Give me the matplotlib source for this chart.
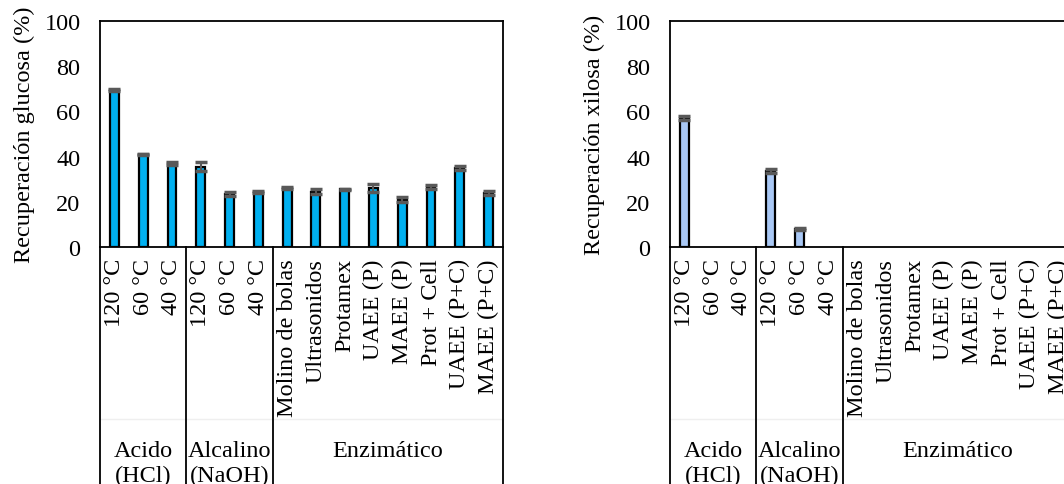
"""Recuperación de glucosa y xilosa por pretratamiento."""

import matplotlib

matplotlib.use("Agg")
import matplotlib.pyplot as plt
import matplotlib.transforms as mtransforms

categories = ["120 °C", "60 °C", "40 °C",
              "120 °C", "60 °C", "40 °C",
              "Molino de bolas", "Ultrasonidos", "Protamex", "UAEE (P)",
              "MAEE (P)", "Prot + Cell", "UAEE (P+C)", "MAEE (P+C)"]
groups = ["Acido\n(HCl)", "Alcalino\n(NaOH)", "Enzimático"]
group_sizes = [3, 3, 8]

glucosa = [69.5, 41.0, 37.0, 35.5, 23.5, 24.5, 26.0, 24.5, 25.5, 26.0, 21.0, 26.5, 35.0, 24.0]
glucosa_err = [0.4, 0.3, 0.6, 2.0, 0.9, 0.4, 0.4, 1.2, 0.3, 1.8, 1.2, 0.9, 0.8, 1.0]
xilosa = [57.0, 0, 0, 33.5, 8.0, 0, 0, 0, 0, 0, 0, 0, 0, 0]
xilosa_err = [1.0, 0, 0, 0.8, 0.3, 0, 0, 0, 0, 0, 0, 0, 0, 0]

plt.rcParams["font.family"] = ["Liberation Serif", "DejaVu Serif"]
plt.rcParams["font.size"] = 17.5

W, H = 1064, 485
fig = plt.figure(figsize=(W / 100, H / 100), dpi=100)


def draw_panel(left_px, values, errors, color, ylabel):
    ax = fig.add_axes([left_px / W, (H - 248) / H, 403 / W, 226 / H])
    x = list(range(len(categories)))
    nz = [i for i, v in enumerate(values) if v > 0]
    ax.bar([x[i] for i in nz], [values[i] for i in nz], width=0.31, color=color,
           edgecolor="black", linewidth=1.6)
    ax.errorbar([x[i] for i in nz], [values[i] for i in nz],
                yerr=[errors[i] for i in nz], fmt="none", ecolor="#595959",
                elinewidth=1.5, capsize=4.5, capthick=2.5)
    ax.set_xlim(-0.5, len(categories) - 0.5)
    ax.set_ylim(0, 100)
    ax.set_yticks([0, 20, 40, 60, 80, 100])
    ax.tick_params(axis="y", length=0, pad=14)
    ax.set_xticks(x)
    ax.set_xticklabels(categories, rotation=90)
    ax.tick_params(axis="x", length=0, pad=8)
    for s in ax.spines.values():
        s.set_linewidth(1.3)
    ax.text(-0.187, 0.5, ylabel, rotation=90, ha="center", va="center",
            transform=ax.transAxes)

    trans = mtransforms.blended_transform_factory(ax.transData, ax.transAxes)
    # faint line between the two label levels
    ax.plot([-0.5, len(categories) - 0.5], [-0.762, -0.762], color="#efefef",
            lw=1, transform=trans, clip_on=False)
    start = -0.5
    for name, n in zip(groups, group_sizes):
        ax.plot([start, start], [0, -1.2], color="black", lw=1.3,
                transform=trans, clip_on=False)
        ax.text(start + n / 2, -0.855, name, ha="center", va="top",
                transform=trans, linespacing=1.25)
        start += n
    ax.plot([start, start], [0, -1.2], color="black", lw=1.3,
            transform=trans, clip_on=False)
    return ax


draw_panel(100, glucosa, glucosa_err, "#00B0F0", "Recuperación glucosa (%)")
draw_panel(670, xilosa, xilosa_err, "#A9C8F5", "Recuperación xilosa (%)")

fig.savefig("out.png", dpi=100)
